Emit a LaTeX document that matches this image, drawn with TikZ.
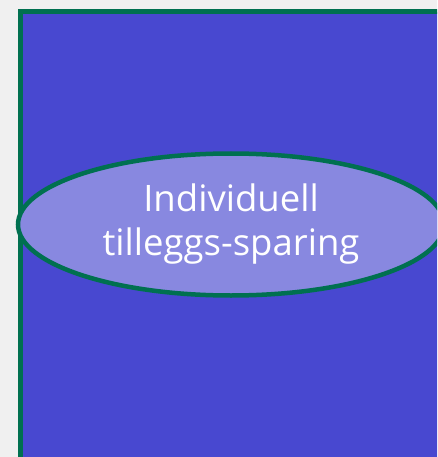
\documentclass[tikz,border=0pt]{standalone}
\usepackage{fontspec}
\setmainfont{Open Sans}
\usetikzlibrary{shapes}
\definecolor{pagegray}{RGB}{240,240,240}
\definecolor{boxblue}{RGB}{72,72,208}
\definecolor{ovalblue}{RGB}{136,136,224}
\definecolor{rimgreen}{RGB}{0,112,80}
\tikzset{
        panel/.style={draw=rimgreen, fill=boxblue, line width=5pt, rectangle, inner sep=0pt},
        saving/.style={draw=rimgreen, fill=ovalblue, line width=4.5pt, ellipse, inner sep=0pt,
            minimum width=426pt, minimum height=142pt, text=white, align=center,
            font=\fontsize{36.5}{44}\selectfont}
    }

\begin{document}
\begin{tikzpicture}[x=1pt, y=-1pt]
            \fill [pagegray] (0, 0) rectangle (437, 457);
            \useasboundingbox (0, 0) rectangle (437, 457);
            \clip (0, 0) rectangle (437, 457);
            \node [panel, minimum width=450pt, minimum height=448pt, anchor=north west] (box) at (18, 9.5) {};
            \node [saving] (plan) at (231, 224.5) {Individuell\\tilleggs-sparing};
        \end{tikzpicture}
\end{document}
